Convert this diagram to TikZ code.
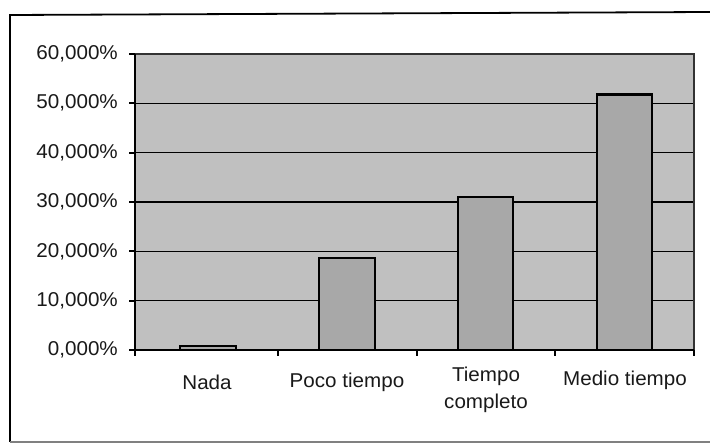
\documentclass[tikz,border=0pt]{standalone}
\usepackage{fontspec}
\setmainfont[FakeStretch=1.03]{Liberation Sans}
\definecolor{plotbg}{RGB}{192,192,192}
\definecolor{barfill}{RGB}{168,168,168}
\begin{document}
\begin{tikzpicture}[x=1pt,y=-1pt,
  ticklbl/.style={anchor=east,inner sep=0pt,text=black!90,font=\fontsize{20}{24}\selectfont},
  catlbl/.style={anchor=center,inner sep=0pt,align=center,text=black!90,font=\fontsize{20}{27}\selectfont},
  barbox/.style={draw=black,line width=2.2pt,fill=barfill},
  gridln/.style={draw=black,line width=1.2pt},
  axisln/.style={draw=black,line width=1.8pt}]
\useasboundingbox (0,0) rectangle (710,443);
\fill[white] (0,0) rectangle (710,443);
% frame
\draw[line width=1.8pt] (710,12) -- (10,15) -- (10,442);
\draw[line width=1.2pt,gray] (10,442) -- (710,442);
% plot area
\fill[plotbg] (135,54) rectangle (694,350);
\foreach \v in {1,...,5} {
  \draw[gridln] (135,{350-49.33*\v}) -- (694,{350-49.33*\v});
}
\draw[line width=1.1pt,black!80] (135,54) -- (694,54) -- (694,350);
% bars
\path[barbox] (180,350) rectangle (236,{350-4.933*0.8});
\path[barbox] (319,350) rectangle (375,{350-4.933*18.6});
\path[barbox] (458,350) rectangle (513,{350-4.933*31.0});
\path[barbox] (597,350) rectangle (652,{350-4.933*51.8});
% axes
\draw[axisln] (135,54) -- (135,356);
\draw[axisln] (129,350) -- (694,350);
\foreach \v in {0,...,6} {
  \draw[axisln] (129,{350-49.33*\v}) -- (135,{350-49.33*\v});
}
\foreach \x in {278,417,555,694} {
  \draw[axisln] (\x,350) -- (\x,356);
}
% tick labels
\node[ticklbl] (t0) at (118,350) {0,000\%};
\node[ticklbl] (t1) at (118,300.7) {10,000\%};
\node[ticklbl] (t2) at (118,251.3) {20,000\%};
\node[ticklbl] (t3) at (118,202) {30,000\%};
\node[ticklbl] (t4) at (118,152.7) {40,000\%};
\node[ticklbl] (t5) at (118,103.3) {50,000\%};
\node[ticklbl] (t6) at (118,54) {60,000\%};
% category labels
\node[catlbl] (c1) at (207,382) {Nada};
\node[catlbl] (c2) at (347,382) {Poco tiempo};
\node[catlbl,anchor=north] (c3) at (486,367) {Tiempo\\completo};
\node[catlbl] (c4) at (625,380) {Medio tiempo};
\end{tikzpicture}
\end{document}
